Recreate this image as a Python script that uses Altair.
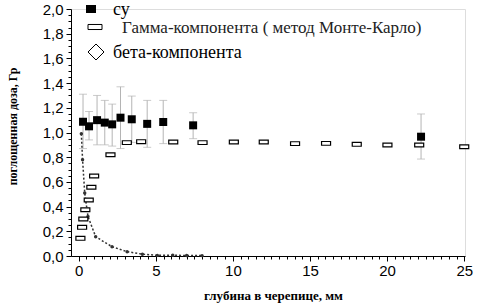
import altair as alt
import pandas as pd

# summed dose (filled squares) with error bars
su_x = [0.28, 0.67, 1.19, 1.69, 2.17, 2.71, 3.44, 4.44, 5.48, 7.42, 22.2]
su_y = [1.087, 1.05, 1.10, 1.08, 1.066, 1.12, 1.107, 1.07, 1.085, 1.058, 0.966]
su_hi = [1.31, 1.17, 1.30, 1.26, 1.23, 1.37, 1.295, 1.26, 1.26, 1.16, 1.15]
su_lo = [0.87, 0.94, 0.90, 0.90, 0.89, 0.87, 0.92, 0.88, 0.91, 0.95, 0.785]

# gamma component (open rectangles)
gamma_x = [0.11, 0.22, 0.30, 0.43, 0.65, 0.82, 1.0, 2.06, 3.12, 4.05, 6.13, 8.03,
           10.06, 12.0, 14.03, 16.04, 18.03, 20.02, 22.08, 25.0]
gamma_y = [0.143, 0.232, 0.30, 0.375, 0.453, 0.556, 0.648, 0.82, 0.918, 0.926, 0.923,
           0.918, 0.923, 0.923, 0.91, 0.912, 0.904, 0.899, 0.899, 0.885]

# beta component (dashed curve)
beta_x = [0.17, 0.25, 0.39, 0.6, 1.1, 2.16, 3.14, 4.13, 5.1, 6.1, 7.0, 8.0]
beta_y = [0.99, 0.78, 0.51, 0.32, 0.156, 0.075, 0.035, 0.015, 0.005, 0.006, 0.004, 0.003]

legend_labels = ["су", "Гамма-компонента ( метод Монте-Карло)", "бета-компонента"]

y_ticks = [round(i * 0.05, 2) for i in range(41)]
x_ticks = [i * 0.5 for i in range(51)]

su_df = pd.DataFrame({"x": su_x, "y": su_y, "hi": su_hi, "lo": su_lo})
gamma_df = pd.DataFrame({"x": gamma_x, "y": gamma_y})
beta_df = pd.DataFrame({"x": beta_x, "y": beta_y})

W, H = 394, 247

xs = alt.Scale(domain=[-0.5, 25.05], nice=False, zero=False)
ys = alt.Scale(domain=[0, 2], nice=False)

x_axis = alt.Axis(
    values=x_ticks,
    labelExpr="datum.value % 5 == 0 ? format(datum.value, 'd') : ''",
    tickSize={"condition": {"test": "datum.value % 5 == 0", "value": 5}, "value": 3},
    grid=False, labelFont="Liberation Sans", labelFontSize=15, labelColor="black",
    domainColor="black", tickColor="black", labelPadding=2, labelFlush=False,
    title="глубина в черепице, мм", titleFont="Liberation Serif", titleFontWeight="bold",
    titleFontSize=13, titleColor="black", titleX=202, titleY=39, titleBaseline="middle",
    titleAnchor="middle",
)
y_axis = alt.Axis(
    values=y_ticks,
    labelExpr="abs(datum.value*5 - round(datum.value*5)) < 0.000001 ? replace(format(datum.value, '.1f'), '.', ',') : ''",
    tickSize={"condition": {"test": "abs(datum.value*5 - round(datum.value*5)) < 0.000001", "value": 5}, "value": 3},
    grid=False, labelFont="Liberation Sans", labelFontSize=15, labelColor="black",
    domainColor="black", tickColor="black", labelPadding=3, labelFlush=False,
    title="поглощенная доза, Гр", titleFont="Liberation Serif", titleFontWeight="bold",
    titleFontSize=12, titleColor="black", titleX=-59, titleY=117, titleBaseline="middle",
    titleAngle=-90,
)

X = alt.X("x:Q", scale=xs, axis=x_axis)
Y = alt.Y("y:Q", scale=ys, axis=y_axis)

err = alt.Chart(su_df).mark_rule(color="#b4b4b4", strokeWidth=1).encode(
    x=X, y=alt.Y("lo:Q", scale=ys, axis=y_axis), y2="hi:Q")
cap_hi = alt.Chart(su_df).mark_tick(orient="horizontal", size=8, thickness=1, color="#b4b4b4").encode(
    x=X, y=alt.Y("hi:Q", scale=ys, axis=y_axis))
cap_lo = alt.Chart(su_df).mark_tick(orient="horizontal", size=8, thickness=1, color="#b4b4b4").encode(
    x=X, y=alt.Y("lo:Q", scale=ys, axis=y_axis))

beta_line = alt.Chart(beta_df).mark_line(color="#333333", strokeWidth=1.5, strokeDash=[2, 2]).encode(x=X, y=Y)
beta_pts = alt.Chart(beta_df).mark_point(filled=True, size=12, color="#333333", opacity=1).encode(x=X, y=Y)

rect_path = "M-1,-0.42L1,-0.42L1,0.42L-1,0.42Z"
gamma = alt.Chart(gamma_df).mark_point(shape=rect_path, size=81, fill="white", stroke="black",
                                       strokeWidth=1.2, opacity=1, fillOpacity=1).encode(x=X, y=Y)
su = alt.Chart(su_df).mark_point(shape="square", size=64, filled=True, color="black", opacity=1).encode(x=X, y=Y)

# manual legend in the top-left corner
leg_df = pd.DataFrame({"label": legend_labels})
leg_sym1 = alt.Chart(leg_df).transform_filter(alt.datum.label == legend_labels[0]).mark_point(
    shape="M-1,-0.8L1,-0.8L1,0.8L-1,0.8Z", size=100, filled=True, color="black", opacity=1
).encode(x=alt.value(20), y=alt.value(0))
leg_sym2 = alt.Chart(leg_df).transform_filter(alt.datum.label == legend_labels[1]).mark_point(
    shape="M-1,-0.36L1,-0.36L1,0.36L-1,0.36Z", size=196, fill="white", stroke="black", strokeWidth=1, opacity=1
).encode(x=alt.value(24), y=alt.value(18))
leg_sym3 = alt.Chart(leg_df).transform_filter(alt.datum.label == legend_labels[2]).mark_point(
    shape="diamond", size=256, fill="white", stroke="black", strokeWidth=1, opacity=1
).encode(x=alt.value(25), y=alt.value(43))
leg_t1 = alt.Chart(leg_df).transform_filter(alt.datum.label == legend_labels[0]).mark_text(
    align="left", baseline="middle", font="Liberation Serif", fontSize=18, color="black"
).encode(x=alt.value(42), y=alt.value(1), text="label:N")
leg_t2 = alt.Chart(leg_df).transform_filter(alt.datum.label == legend_labels[1]).mark_text(
    align="left", baseline="middle", font="Liberation Serif", fontSize=17, color="#222222"
).encode(x=alt.value(51), y=alt.value(19), text="label:N")
leg_t3 = alt.Chart(leg_df).transform_filter(alt.datum.label == legend_labels[2]).mark_text(
    align="left", baseline="middle", font="Liberation Serif", fontSize=18, color="black"
).encode(x=alt.value(42), y=alt.value(44), text="label:N")

chart = alt.layer(
    err, cap_hi, cap_lo, beta_line, beta_pts, gamma, su,
    leg_sym1, leg_sym2, leg_sym3, leg_t1, leg_t2, leg_t3
).properties(
    width=W, height=H,
    autosize="none",
    padding={"left": 71, "top": 9, "right": 12, "bottom": 48},
).configure_view(stroke=None).configure(background="white")

chart.save("out.html", embed_options={"renderer": "svg", "actions": False})
